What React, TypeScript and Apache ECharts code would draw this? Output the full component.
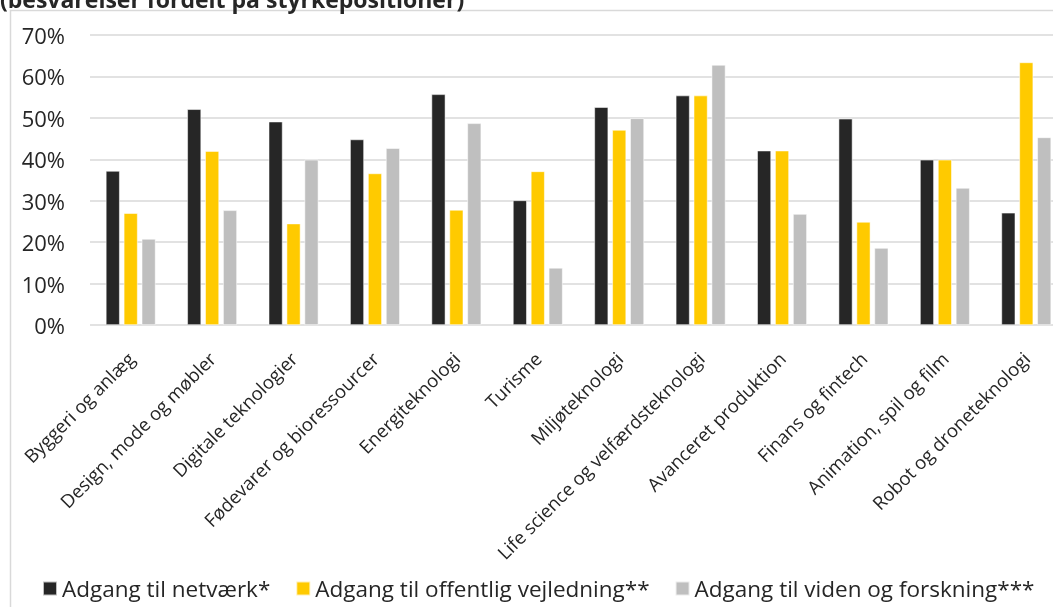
import React, { useEffect, useRef } from "react";
import * as echarts from "echarts";

const categories = [
  "Byggeri og anlæg",
  "Design, mode og møbler",
  "Digitale teknologier",
  "Fødevarer og bioressourcer",
  "Energiteknologi",
  "Turisme",
  "Miljøteknologi",
  "Life science og velfærdsteknologi",
  "Avanceret produktion",
  "Finans og fintech",
  "Animation, spil og film",
  "Robot og droneteknologi",
];

const seriesNames = [
  "Adgang til netværk*",
  "Adgang til offentlig vejledning**",
  "Adgang til viden og forskning***",
];

const netvaerk = [37.2, 52.1, 49.1, 44.8, 55.7, 30.1, 52.6, 55.4, 42.1, 49.8, 39.9, 27.1];
const vejledning = [27.0, 42.0, 24.5, 36.6, 27.8, 37.1, 47.1, 55.4, 42.1, 24.9, 39.9, 63.4];
const viden = [20.8, 27.7, 39.9, 42.7, 48.7, 13.8, 49.9, 62.8, 26.8, 18.6, 33.1, 45.3];

const yTicks = [0, 10, 20, 30, 40, 50, 60, 70];

const colors = ["#262626", "#FFCA00", "#BFBFBF"];

const titleText = "(besvarelser fordelt på styrkepositioner)";

export default function App() {
  const ref = useRef<HTMLDivElement>(null);
  useEffect(() => {
    if (!ref.current) return;
    const chart = echarts.init(ref.current, undefined, { renderer: "svg" });
    const font = "'Open Sans', 'Noto Sans', sans-serif";
    const dataSets = [netvaerk, vejledning, viden];
    chart.setOption({
      animation: false,
      textStyle: { fontFamily: font },
      grid: {
        left: 90,
        top: 35,
        width: 977,
        height: 290,
        containLabel: false,
        outerBoundsMode: "none",
      },
      legend: {
        left: 42,
        top: 577,
        width: 1100,
        padding: 0,
        icon: "rect",
        itemWidth: 14,
        itemHeight: 14,
        itemGap: 25,
        textStyle: { fontFamily: font, fontSize: 22.5, color: "#262626" },
        data: seriesNames,
      },
      xAxis: {
        type: "category",
        data: categories,
        axisLine: { show: false },
        axisTick: { show: false },
        axisLabel: {
          rotate: 45,
          interval: 0,
          margin: 30,
          fontSize: 18.5,
          color: "#262626",
          fontFamily: font,
        },
      },
      yAxis: {
        type: "value",
        min: yTicks[0],
        max: yTicks[yTicks.length - 1],
        interval: 10,
        axisLabel: {
          formatter: "{value}%",
          fontSize: 22,
          margin: 25,
          color: "#262626",
          fontFamily: font,
        },
        axisLine: { show: false },
        axisTick: { show: false },
        splitLine: { lineStyle: { color: "#d9d9d9", width: 1.5 } },
      },
      graphic: [
        {
          type: "rect",
          z: -1,
          shape: { x: 10.5, y: 10.5, width: 1200, height: 800 },
          style: { fill: "none", stroke: "#d9d9d9", lineWidth: 1.5 },
          silent: true,
        },
        {
          type: "text",
          x: 0,
          y: 10,
          style: {
            text: titleText,
            fontFamily: font,
            fontWeight: "bold",
            fontSize: 23,
            fill: "#262626",
            verticalAlign: "bottom",
          },
        },
      ],
      series: seriesNames.map((name, i) => ({
        name,
        type: "bar",
        data: dataSets[i],
        barWidth: 14,
        barGap: "28%",
        itemStyle: { color: colors[i], borderColor: "rgba(255,255,255,0.7)", borderWidth: 0.75 },
      })),
    });
    return () => chart.dispose();
  }, []);
  return (
    <div
      ref={ref}
      style={{ position: "fixed", left: 0, top: 0, width: 1053, height: 607 }}
    />
  );
}
